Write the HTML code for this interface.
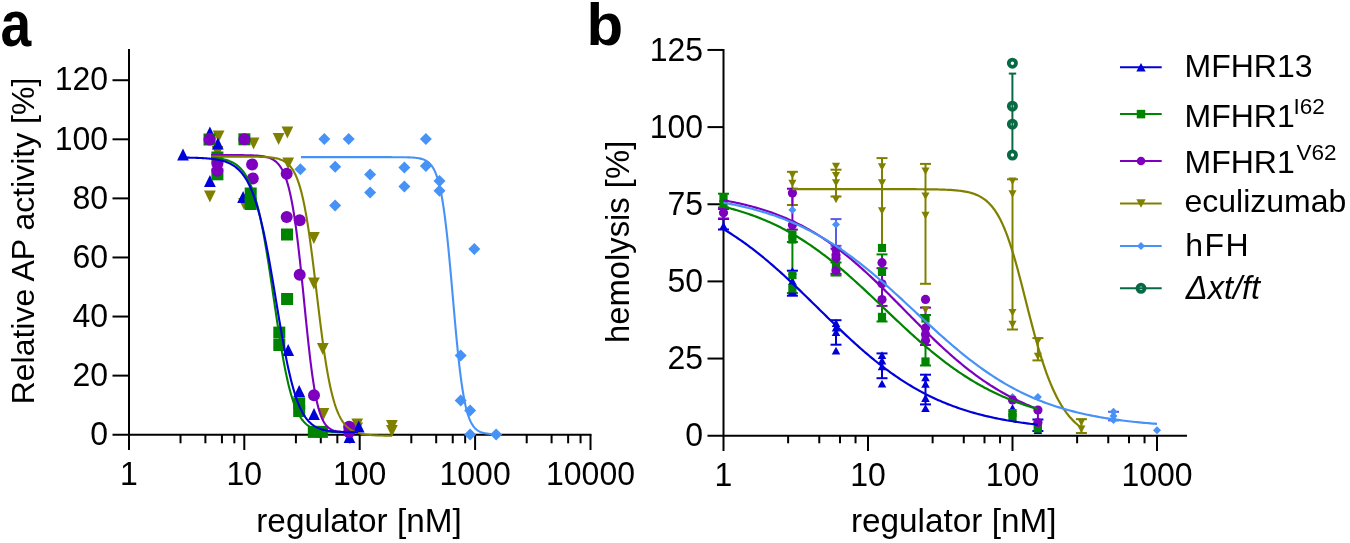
<!DOCTYPE html>
<html><head><meta charset="utf-8"><style>
html,body{margin:0;padding:0;background:#fff;overflow:hidden;}
svg{display:block;will-change:transform;font-family:"Liberation Sans",sans-serif;}
</style></head><body>
<svg width="1350" height="543" viewBox="0 0 1350 543">
<rect width="1350" height="543" fill="#fff"/>
<line x1="129.00" y1="49.00" x2="129.00" y2="450.00" stroke="#000" stroke-width="2"/>
<line x1="112.50" y1="434.70" x2="591.50" y2="434.70" stroke="#000" stroke-width="2"/>
<line x1="112.50" y1="375.62" x2="129.00" y2="375.62" stroke="#000" stroke-width="2"/>
<line x1="112.50" y1="316.54" x2="129.00" y2="316.54" stroke="#000" stroke-width="2"/>
<line x1="112.50" y1="257.46" x2="129.00" y2="257.46" stroke="#000" stroke-width="2"/>
<line x1="112.50" y1="198.38" x2="129.00" y2="198.38" stroke="#000" stroke-width="2"/>
<line x1="112.50" y1="139.30" x2="129.00" y2="139.30" stroke="#000" stroke-width="2"/>
<line x1="112.50" y1="80.22" x2="129.00" y2="80.22" stroke="#000" stroke-width="2"/>
<line x1="180.51" y1="434.70" x2="180.51" y2="443.30" stroke="#000" stroke-width="2"/>
<line x1="205.39" y1="434.70" x2="205.39" y2="443.30" stroke="#000" stroke-width="2"/>
<line x1="221.94" y1="434.70" x2="221.94" y2="443.30" stroke="#000" stroke-width="2"/>
<line x1="234.35" y1="434.70" x2="234.35" y2="443.30" stroke="#000" stroke-width="2"/>
<line x1="244.30" y1="434.70" x2="244.30" y2="450.00" stroke="#000" stroke-width="2"/>
<line x1="295.91" y1="434.70" x2="295.91" y2="443.30" stroke="#000" stroke-width="2"/>
<line x1="320.79" y1="434.70" x2="320.79" y2="443.30" stroke="#000" stroke-width="2"/>
<line x1="337.34" y1="434.70" x2="337.34" y2="443.30" stroke="#000" stroke-width="2"/>
<line x1="349.75" y1="434.70" x2="349.75" y2="443.30" stroke="#000" stroke-width="2"/>
<line x1="359.70" y1="434.70" x2="359.70" y2="450.00" stroke="#000" stroke-width="2"/>
<line x1="411.31" y1="434.70" x2="411.31" y2="443.30" stroke="#000" stroke-width="2"/>
<line x1="436.19" y1="434.70" x2="436.19" y2="443.30" stroke="#000" stroke-width="2"/>
<line x1="452.74" y1="434.70" x2="452.74" y2="443.30" stroke="#000" stroke-width="2"/>
<line x1="465.15" y1="434.70" x2="465.15" y2="443.30" stroke="#000" stroke-width="2"/>
<line x1="475.10" y1="434.70" x2="475.10" y2="450.00" stroke="#000" stroke-width="2"/>
<line x1="526.71" y1="434.70" x2="526.71" y2="443.30" stroke="#000" stroke-width="2"/>
<line x1="551.59" y1="434.70" x2="551.59" y2="443.30" stroke="#000" stroke-width="2"/>
<line x1="568.14" y1="434.70" x2="568.14" y2="443.30" stroke="#000" stroke-width="2"/>
<line x1="580.55" y1="434.70" x2="580.55" y2="443.30" stroke="#000" stroke-width="2"/>
<line x1="590.50" y1="434.70" x2="590.50" y2="450.00" stroke="#000" stroke-width="2"/>
<text transform="translate(108.00,444.90) scale(1,1.04)" font-size="32" text-anchor="end" font-weight="normal" font-style="normal" >0</text>
<text transform="translate(108.00,385.82) scale(1,1.04)" font-size="32" text-anchor="end" font-weight="normal" font-style="normal" >20</text>
<text transform="translate(108.00,326.74) scale(1,1.04)" font-size="32" text-anchor="end" font-weight="normal" font-style="normal" >40</text>
<text transform="translate(108.00,267.66) scale(1,1.04)" font-size="32" text-anchor="end" font-weight="normal" font-style="normal" >60</text>
<text transform="translate(108.00,208.58) scale(1,1.04)" font-size="32" text-anchor="end" font-weight="normal" font-style="normal" >80</text>
<text transform="translate(108.00,149.50) scale(1,1.04)" font-size="32" text-anchor="end" font-weight="normal" font-style="normal" >100</text>
<text transform="translate(108.00,90.42) scale(1,1.04)" font-size="32" text-anchor="end" font-weight="normal" font-style="normal" >120</text>
<text transform="translate(128.90,485.00) scale(1,1.04)" font-size="32" text-anchor="middle" font-weight="normal" font-style="normal" >1</text>
<text transform="translate(244.30,485.00) scale(1,1.04)" font-size="32" text-anchor="middle" font-weight="normal" font-style="normal" >10</text>
<text transform="translate(359.70,485.00) scale(1,1.04)" font-size="32" text-anchor="middle" font-weight="normal" font-style="normal" >100</text>
<text transform="translate(475.10,485.00) scale(1,1.04)" font-size="32" text-anchor="middle" font-weight="normal" font-style="normal" >1000</text>
<text transform="translate(590.50,485.00) scale(1,1.04)" font-size="32" text-anchor="middle" font-weight="normal" font-style="normal" >10000</text>
<text x="359.00" y="531.60" font-size="33.3" text-anchor="middle" font-weight="normal" font-style="normal" >regulator [nM]</text>
<text transform="translate(34.3,241) rotate(-90)" font-size="32" text-anchor="middle">Relative AP activity [%]</text>
<text transform="translate(0.6,45.8) scale(0.92,1.07)" font-size="60" font-weight="bold">a</text>
<path d="M218.60,142.50L224.48,130.50L212.72,130.50Z" fill="#808000"/>
<path d="M217.50,158.00L223.38,146.00L211.62,146.00Z" fill="#808000"/>
<path d="M209.90,202.50L215.78,190.50L204.02,190.50Z" fill="#808000"/>
<path d="M244.00,210.00L249.88,198.00L238.12,198.00Z" fill="#808000"/>
<path d="M253.60,149.50L259.48,137.50L247.72,137.50Z" fill="#808000"/>
<path d="M278.60,145.00L284.48,133.00L272.72,133.00Z" fill="#808000"/>
<path d="M287.40,138.50L293.28,126.50L281.52,126.50Z" fill="#808000"/>
<path d="M288.20,169.50L294.08,157.50L282.32,157.50Z" fill="#808000"/>
<path d="M313.90,244.00L319.78,232.00L308.02,232.00Z" fill="#808000"/>
<path d="M313.90,289.60L319.78,277.60L308.02,277.60Z" fill="#808000"/>
<path d="M322.80,355.00L328.68,343.00L316.92,343.00Z" fill="#808000"/>
<path d="M323.50,420.00L329.38,408.00L317.62,408.00Z" fill="#808000"/>
<path d="M357.20,430.50L363.08,418.50L351.32,418.50Z" fill="#808000"/>
<path d="M357.20,434.50L363.08,422.50L351.32,422.50Z" fill="#808000"/>
<path d="M391.90,432.00L397.78,420.00L386.02,420.00Z" fill="#808000"/>
<path d="M391.90,437.00L397.78,425.00L386.02,425.00Z" fill="#808000"/>
<path d="M183.00,148.50L188.88,160.50L177.12,160.50Z" fill="#0000d8"/>
<path d="M209.90,126.50L215.78,138.50L204.02,138.50Z" fill="#0000d8"/>
<path d="M217.80,137.50L223.68,149.50L211.92,149.50Z" fill="#0000d8"/>
<path d="M209.90,175.00L215.78,187.00L204.02,187.00Z" fill="#0000d8"/>
<path d="M243.10,191.00L248.98,203.00L237.22,203.00Z" fill="#0000d8"/>
<path d="M288.20,344.00L294.08,356.00L282.32,356.00Z" fill="#0000d8"/>
<path d="M299.20,385.00L305.08,397.00L293.32,397.00Z" fill="#0000d8"/>
<path d="M314.00,408.00L319.88,420.00L308.12,420.00Z" fill="#0000d8"/>
<path d="M349.50,431.00L355.38,443.00L343.62,443.00Z" fill="#0000d8"/>
<path d="M358.70,420.50L364.58,432.50L352.82,432.50Z" fill="#0000d8"/>
<rect x="203.50" y="133.50" width="12.00" height="12.00" fill="#008400"/>
<rect x="211.40" y="151.50" width="12.00" height="12.00" fill="#008400"/>
<rect x="211.40" y="168.30" width="12.00" height="12.00" fill="#008400"/>
<rect x="238.40" y="133.30" width="12.00" height="12.00" fill="#008400"/>
<rect x="244.70" y="187.50" width="12.00" height="12.00" fill="#008400"/>
<rect x="244.70" y="198.00" width="12.00" height="12.00" fill="#008400"/>
<rect x="273.30" y="326.60" width="12.00" height="12.00" fill="#008400"/>
<rect x="273.30" y="339.00" width="12.00" height="12.00" fill="#008400"/>
<rect x="281.00" y="228.50" width="12.00" height="12.00" fill="#008400"/>
<rect x="281.10" y="293.00" width="12.00" height="12.00" fill="#008400"/>
<rect x="293.20" y="397.30" width="12.00" height="12.00" fill="#008400"/>
<rect x="293.20" y="405.00" width="12.00" height="12.00" fill="#008400"/>
<rect x="307.80" y="425.90" width="12.00" height="12.00" fill="#008400"/>
<rect x="315.90" y="425.90" width="12.00" height="12.00" fill="#008400"/>
<circle cx="209.50" cy="139.50" r="6.00" fill="#7c00be"/>
<circle cx="217.40" cy="163.80" r="6.00" fill="#7c00be"/>
<circle cx="217.40" cy="170.80" r="6.00" fill="#7c00be"/>
<circle cx="244.40" cy="139.30" r="6.00" fill="#7c00be"/>
<circle cx="252.10" cy="164.40" r="6.00" fill="#7c00be"/>
<circle cx="252.80" cy="178.40" r="6.00" fill="#7c00be"/>
<circle cx="286.70" cy="173.80" r="6.00" fill="#7c00be"/>
<circle cx="286.70" cy="217.00" r="6.00" fill="#7c00be"/>
<circle cx="299.70" cy="220.20" r="6.00" fill="#7c00be"/>
<circle cx="299.70" cy="274.70" r="6.00" fill="#7c00be"/>
<circle cx="314.00" cy="395.30" r="6.00" fill="#7c00be"/>
<circle cx="349.10" cy="426.70" r="6.00" fill="#7c00be"/>
<circle cx="349.10" cy="432.00" r="6.00" fill="#7c00be"/>
<path d="M300.40,163.30L306.40,169.30L300.40,175.30L294.40,169.30Z" fill="#4792f6"/>
<path d="M324.30,133.10L330.30,139.10L324.30,145.10L318.30,139.10Z" fill="#4792f6"/>
<path d="M335.20,160.80L341.20,166.80L335.20,172.80L329.20,166.80Z" fill="#4792f6"/>
<path d="M335.10,199.40L341.10,205.40L335.10,211.40L329.10,205.40Z" fill="#4792f6"/>
<path d="M348.70,133.10L354.70,139.10L348.70,145.10L342.70,139.10Z" fill="#4792f6"/>
<path d="M370.10,168.50L376.10,174.50L370.10,180.50L364.10,174.50Z" fill="#4792f6"/>
<path d="M370.10,186.50L376.10,192.50L370.10,198.50L364.10,192.50Z" fill="#4792f6"/>
<path d="M404.40,161.40L410.40,167.40L404.40,173.40L398.40,167.40Z" fill="#4792f6"/>
<path d="M404.40,180.60L410.40,186.60L404.40,192.60L398.40,186.60Z" fill="#4792f6"/>
<path d="M425.90,133.10L431.90,139.10L425.90,145.10L419.90,139.10Z" fill="#4792f6"/>
<path d="M425.90,160.00L431.90,166.00L425.90,172.00L419.90,166.00Z" fill="#4792f6"/>
<path d="M439.50,175.10L445.50,181.10L439.50,187.10L433.50,181.10Z" fill="#4792f6"/>
<path d="M439.50,184.70L445.50,190.70L439.50,196.70L433.50,190.70Z" fill="#4792f6"/>
<path d="M474.30,242.90L480.30,248.90L474.30,254.90L468.30,248.90Z" fill="#4792f6"/>
<path d="M460.70,349.50L466.70,355.50L460.70,361.50L454.70,355.50Z" fill="#4792f6"/>
<path d="M460.70,394.60L466.70,400.60L460.70,406.60L454.70,400.60Z" fill="#4792f6"/>
<path d="M470.10,404.40L476.10,410.40L470.10,416.40L464.10,410.40Z" fill="#4792f6"/>
<path d="M470.10,428.50L476.10,434.50L470.10,440.50L464.10,434.50Z" fill="#4792f6"/>
<path d="M496.10,428.50L502.10,434.50L496.10,440.50L490.10,434.50Z" fill="#4792f6"/>
<path d="M301.00,157.16L301.98,157.16L302.96,157.16L303.94,157.16L304.92,157.16L305.90,157.16L306.88,157.16L307.86,157.16L308.84,157.16L309.82,157.16L310.80,157.16L311.78,157.16L312.76,157.16L313.74,157.16L314.72,157.16L315.70,157.16L316.68,157.16L317.66,157.16L318.64,157.16L319.62,157.16L320.60,157.16L321.58,157.16L322.56,157.16L323.54,157.16L324.52,157.16L325.50,157.16L326.48,157.16L327.46,157.16L328.44,157.16L329.42,157.16L330.40,157.16L331.38,157.16L332.36,157.16L333.34,157.16L334.32,157.16L335.30,157.16L336.28,157.16L337.26,157.16L338.24,157.16L339.22,157.16L340.20,157.16L341.18,157.16L342.16,157.16L343.14,157.16L344.12,157.16L345.10,157.16L346.08,157.16L347.06,157.16L348.04,157.16L349.02,157.16L349.99,157.16L350.97,157.16L351.95,157.16L352.93,157.16L353.91,157.16L354.89,157.16L355.87,157.16L356.85,157.16L357.83,157.16L358.81,157.16L359.79,157.16L360.77,157.16L361.75,157.16L362.73,157.16L363.71,157.16L364.69,157.16L365.67,157.16L366.65,157.16L367.63,157.16L368.61,157.16L369.59,157.16L370.57,157.16L371.55,157.16L372.53,157.16L373.51,157.16L374.49,157.16L375.47,157.16L376.45,157.16L377.43,157.16L378.41,157.16L379.39,157.16L380.37,157.16L381.35,157.16L382.33,157.17L383.31,157.17L384.29,157.17L385.27,157.17L386.25,157.17L387.23,157.17L388.21,157.17L389.19,157.17L390.17,157.17L391.15,157.17L392.13,157.18L393.11,157.18L394.09,157.18L395.07,157.19L396.05,157.19L397.03,157.19L398.01,157.20L398.99,157.21L399.97,157.21L400.95,157.22L401.93,157.23L402.91,157.25L403.89,157.26L404.87,157.28L405.85,157.30L406.83,157.32L407.81,157.35L408.79,157.38L409.77,157.42L410.75,157.46L411.73,157.51L412.71,157.57L413.69,157.64L414.67,157.72L415.65,157.82L416.63,157.93L417.61,158.06L418.59,158.22L419.57,158.40L420.55,158.61L421.53,158.86L422.51,159.15L423.49,159.49L424.47,159.89L425.45,160.35L426.43,160.90L427.41,161.53L428.39,162.27L429.37,163.13L430.35,164.14L431.33,165.31L432.31,166.67L433.29,168.24L434.27,170.07L435.25,172.18L436.23,174.61L437.21,177.40L438.19,180.61L439.17,184.27L440.15,188.43L441.13,193.14L442.11,198.45L443.09,204.39L444.07,211.00L445.05,218.30L446.03,226.28L447.01,234.95L447.98,244.26L448.96,254.15L449.94,264.56L450.92,275.36L451.90,286.45L452.88,297.68L453.86,308.91L454.84,319.99L455.82,330.79L456.80,341.17L457.78,351.03L458.76,360.30L459.74,368.90L460.72,376.80L461.70,383.99L462.68,390.48L463.66,396.29L464.64,401.44L465.62,405.99L466.60,409.98L467.58,413.46L468.56,416.49L469.54,419.11L470.52,421.36L471.50,423.30L472.48,424.97L473.46,426.39L474.44,427.61L475.42,428.64L476.40,429.52L477.38,430.27L478.36,430.91L479.34,431.44L480.32,431.90L481.30,432.29L482.28,432.62L483.26,432.89L484.24,433.13L485.22,433.32L486.20,433.49L487.18,433.63L488.16,433.75L489.14,433.85L490.12,433.94L491.10,434.01L492.08,434.07L493.06,434.12L494.04,434.16L495.02,434.20L496.00,434.23" fill="none" stroke="#4792f6" stroke-width="2.1" stroke-linejoin="round"/>
<path d="M211.00,155.08L211.74,155.08L212.48,155.08L213.22,155.08L213.95,155.08L214.69,155.08L215.43,155.08L216.17,155.08L216.91,155.08L217.65,155.08L218.39,155.08L219.13,155.08L219.86,155.08L220.60,155.08L221.34,155.08L222.08,155.08L222.82,155.08L223.56,155.08L224.30,155.08L225.04,155.09L225.77,155.09L226.51,155.09L227.25,155.09L227.99,155.09L228.73,155.09L229.47,155.09L230.21,155.09L230.94,155.10L231.68,155.10L232.42,155.10L233.16,155.10L233.90,155.10L234.64,155.11L235.38,155.11L236.12,155.11L236.85,155.12L237.59,155.12L238.33,155.12L239.07,155.13L239.81,155.14L240.55,155.14L241.29,155.15L242.03,155.15L242.76,155.16L243.50,155.17L244.24,155.18L244.98,155.19L245.72,155.20L246.46,155.22L247.20,155.23L247.93,155.25L248.67,155.26L249.41,155.28L250.15,155.30L250.89,155.33L251.63,155.35L252.37,155.38L253.11,155.41L253.84,155.44L254.58,155.48L255.32,155.52L256.06,155.57L256.80,155.62L257.54,155.67L258.28,155.73L259.02,155.80L259.75,155.87L260.49,155.95L261.23,156.04L261.97,156.14L262.71,156.25L263.45,156.37L264.19,156.50L264.92,156.65L265.66,156.81L266.40,156.98L267.14,157.18L267.88,157.39L268.62,157.62L269.36,157.88L270.10,158.16L270.83,158.48L271.57,158.82L272.31,159.20L273.05,159.61L273.79,160.07L274.53,160.57L275.27,161.12L276.01,161.73L276.74,162.39L277.48,163.12L278.22,163.92L278.96,164.80L279.70,165.76L280.44,166.81L281.18,167.96L281.91,169.22L282.65,170.60L283.39,172.10L284.13,173.74L284.87,175.53L285.61,177.47L286.35,179.58L287.09,181.88L287.82,184.37L288.56,187.06L289.30,189.98L290.04,193.12L290.78,196.50L291.52,200.14L292.26,204.03L292.99,208.20L293.73,212.64L294.47,217.37L295.21,222.37L295.95,227.67L296.69,233.24L297.43,239.09L298.17,245.20L298.90,251.57L299.64,258.16L300.38,264.96L301.12,271.95L301.86,279.09L302.60,286.35L303.34,293.69L304.08,301.07L304.81,308.46L305.55,315.82L306.29,323.09L307.03,330.25L307.77,337.26L308.51,344.07L309.25,350.67L309.98,357.01L310.72,363.08L311.46,368.85L312.20,374.32L312.94,379.47L313.68,384.30L314.42,388.80L315.16,392.99L315.89,396.86L316.63,400.42L317.37,403.69L318.11,406.67L318.85,409.40L319.59,411.87L320.33,414.10L321.07,416.12L321.80,417.93L322.54,419.57L323.28,421.03L324.02,422.33L324.76,423.50L325.50,424.53L326.24,425.46L326.97,426.27L327.71,427.00L328.45,427.64L329.19,428.21L329.93,428.71L330.67,429.15L331.41,429.54L332.15,429.88L332.88,430.19L333.62,430.45L334.36,430.69L335.10,430.89L335.84,431.07L336.58,431.23L337.32,431.37L338.06,431.49L338.79,431.59L339.53,431.69L340.27,431.77L341.01,431.84L341.75,431.90L342.49,431.96L343.23,432.00L343.96,432.05L344.70,432.08L345.44,432.12L346.18,432.14L346.92,432.17L347.66,432.19L348.40,432.21L349.14,432.22L349.87,432.24L350.61,432.25L351.35,432.26L352.09,432.27L352.83,432.28L353.57,432.29L354.31,432.29L355.05,432.30L355.78,432.30L356.52,432.31L357.26,432.31L358.00,432.31" fill="none" stroke="#7c00be" stroke-width="2.1" stroke-linejoin="round"/>
<path d="M211.00,156.64L211.91,156.64L212.82,156.64L213.73,156.64L214.64,156.64L215.55,156.64L216.46,156.64L217.37,156.64L218.28,156.64L219.19,156.64L220.10,156.64L221.01,156.64L221.91,156.64L222.82,156.64L223.73,156.64L224.64,156.64L225.55,156.64L226.46,156.64L227.37,156.64L228.28,156.64L229.19,156.64L230.10,156.64L231.01,156.65L231.92,156.65L232.83,156.65L233.74,156.65L234.65,156.65L235.56,156.65L236.47,156.65L237.38,156.65L238.29,156.65L239.20,156.66L240.11,156.66L241.02,156.66L241.92,156.66L242.83,156.66L243.74,156.67L244.65,156.67L245.56,156.68L246.47,156.68L247.38,156.68L248.29,156.69L249.20,156.70L250.11,156.70L251.02,156.71L251.93,156.72L252.84,156.73L253.75,156.74L254.66,156.75L255.57,156.76L256.48,156.78L257.39,156.80L258.30,156.82L259.21,156.84L260.12,156.86L261.03,156.89L261.93,156.92L262.84,156.95L263.75,156.99L264.66,157.03L265.57,157.08L266.48,157.14L267.39,157.20L268.30,157.26L269.21,157.34L270.12,157.42L271.03,157.52L271.94,157.63L272.85,157.75L273.76,157.88L274.67,158.03L275.58,158.20L276.49,158.39L277.40,158.60L278.31,158.84L279.22,159.10L280.13,159.40L281.04,159.73L281.94,160.11L282.85,160.52L283.76,160.99L284.67,161.51L285.58,162.09L286.49,162.74L287.40,163.47L288.31,164.27L289.22,165.18L290.13,166.18L291.04,167.30L291.95,168.54L292.86,169.91L293.77,171.44L294.68,173.13L295.59,175.00L296.50,177.06L297.41,179.33L298.32,181.83L299.23,184.58L300.14,187.58L301.05,190.85L301.95,194.42L302.86,198.29L303.77,202.47L304.68,206.98L305.59,211.82L306.50,216.99L307.41,222.49L308.32,228.32L309.23,234.46L310.14,240.90L311.05,247.61L311.96,254.56L312.87,261.73L313.78,269.08L314.69,276.57L315.60,284.14L316.51,291.76L317.42,299.38L318.33,306.96L319.24,314.44L320.15,321.79L321.06,328.97L321.96,335.94L322.87,342.68L323.78,349.16L324.69,355.36L325.60,361.26L326.51,366.86L327.42,372.16L328.33,377.14L329.24,381.81L330.15,386.18L331.06,390.26L331.97,394.05L332.88,397.56L333.79,400.81L334.70,403.82L335.61,406.59L336.52,409.14L337.43,411.48L338.34,413.63L339.25,415.60L340.16,417.40L341.07,419.05L341.97,420.56L342.88,421.94L343.79,423.19L344.70,424.34L345.61,425.38L346.52,426.33L347.43,427.20L348.34,427.98L349.25,428.70L350.16,429.35L351.07,429.94L351.98,430.48L352.89,430.96L353.80,431.41L354.71,431.81L355.62,432.18L356.53,432.51L357.44,432.81L358.35,433.08L359.26,433.33L360.17,433.56L361.08,433.76L361.98,433.94L362.89,434.11L363.80,434.27L364.71,434.40L365.62,434.53L366.53,434.64L367.44,434.75L368.35,434.84L369.26,434.92L370.17,435.00L371.08,435.07L371.99,435.13L372.90,435.19L373.81,435.24L374.72,435.29L375.63,435.33L376.54,435.37L377.45,435.41L378.36,435.44L379.27,435.47L380.18,435.49L381.09,435.52L381.99,435.54L382.90,435.56L383.81,435.58L384.72,435.59L385.63,435.61L386.54,435.62L387.45,435.63L388.36,435.64L389.27,435.65L390.18,435.66L391.09,435.67L392.00,435.68" fill="none" stroke="#808000" stroke-width="2.1" stroke-linejoin="round"/>
<path d="M211.00,157.69L211.74,157.74L212.48,157.80L213.22,157.86L213.95,157.92L214.69,157.99L215.43,158.07L216.17,158.15L216.91,158.23L217.65,158.33L218.39,158.42L219.13,158.53L219.86,158.64L220.60,158.77L221.34,158.90L222.08,159.03L222.82,159.18L223.56,159.34L224.30,159.51L225.04,159.70L225.77,159.89L226.51,160.10L227.25,160.33L227.99,160.57L228.73,160.83L229.47,161.10L230.21,161.40L230.94,161.71L231.68,162.05L232.42,162.41L233.16,162.79L233.90,163.21L234.64,163.65L235.38,164.12L236.12,164.62L236.85,165.16L237.59,165.73L238.33,166.34L239.07,167.00L239.81,167.70L240.55,168.44L241.29,169.23L242.03,170.08L242.76,170.98L243.50,171.94L244.24,172.96L244.98,174.05L245.72,175.21L246.46,176.44L247.20,177.75L247.93,179.13L248.67,180.60L249.41,182.16L250.15,183.82L250.89,185.57L251.63,187.42L252.37,189.37L253.11,191.44L253.84,193.62L254.58,195.92L255.32,198.33L256.06,200.87L256.80,203.54L257.54,206.34L258.28,209.28L259.02,212.34L259.75,215.55L260.49,218.89L261.23,222.36L261.97,225.98L262.71,229.73L263.45,233.61L264.19,237.63L264.92,241.77L265.66,246.04L266.40,250.42L267.14,254.91L267.88,259.51L268.62,264.20L269.36,268.97L270.10,273.82L270.83,278.74L271.57,283.70L272.31,288.71L273.05,293.75L273.79,298.80L274.53,303.85L275.27,308.89L276.01,313.91L276.74,318.88L277.48,323.81L278.22,328.67L278.96,333.46L279.70,338.16L280.44,342.76L281.18,347.26L281.91,351.64L282.65,355.90L283.39,360.03L284.13,364.02L284.87,367.88L285.61,371.59L286.35,375.15L287.09,378.57L287.82,381.84L288.56,384.97L289.30,387.94L290.04,390.77L290.78,393.46L291.52,396.01L292.26,398.42L292.99,400.69L293.73,402.84L294.47,404.87L295.21,406.77L295.95,408.56L296.69,410.24L297.43,411.81L298.17,413.28L298.90,414.66L299.64,415.94L300.38,417.14L301.12,418.26L301.86,419.30L302.60,420.27L303.34,421.18L304.08,422.02L304.81,422.79L305.55,423.52L306.29,424.19L307.03,424.81L307.77,425.39L308.51,425.92L309.25,426.42L309.98,426.87L310.72,427.30L311.46,427.69L312.20,428.05L312.94,428.39L313.68,428.70L314.42,428.98L315.16,429.24L315.89,429.49L316.63,429.71L317.37,429.92L318.11,430.11L318.85,430.29L319.59,430.45L320.33,430.60L321.07,430.74L321.80,430.86L322.54,430.98L323.28,431.09L324.02,431.19L324.76,431.28L325.50,431.36L326.24,431.44L326.97,431.51L327.71,431.58L328.45,431.64L329.19,431.69L329.93,431.75L330.67,431.79L331.41,431.84L332.15,431.88L332.88,431.91L333.62,431.95L334.36,431.98L335.10,432.01L335.84,432.03L336.58,432.06L337.32,432.08L338.06,432.10L338.79,432.12L339.53,432.14L340.27,432.15L341.01,432.17L341.75,432.18L342.49,432.19L343.23,432.21L343.96,432.22L344.70,432.23L345.44,432.23L346.18,432.24L346.92,432.25L347.66,432.26L348.40,432.26L349.14,432.27L349.87,432.27L350.61,432.28L351.35,432.28L352.09,432.29L352.83,432.29L353.57,432.30L354.31,432.30L355.05,432.30L355.78,432.31L356.52,432.31L357.26,432.31L358.00,432.31" fill="none" stroke="#008400" stroke-width="2.1" stroke-linejoin="round"/>
<path d="M183.00,157.59L183.88,157.60L184.76,157.61L185.64,157.62L186.52,157.63L187.40,157.65L188.28,157.66L189.16,157.67L190.04,157.69L190.91,157.71L191.79,157.73L192.67,157.75L193.55,157.77L194.43,157.79L195.31,157.82L196.19,157.85L197.07,157.87L197.95,157.91L198.83,157.94L199.71,157.98L200.59,158.01L201.47,158.06L202.35,158.10L203.23,158.15L204.11,158.20L204.98,158.26L205.86,158.32L206.74,158.38L207.62,158.45L208.50,158.52L209.38,158.60L210.26,158.69L211.14,158.78L212.02,158.88L212.90,158.98L213.78,159.10L214.66,159.22L215.54,159.35L216.42,159.49L217.30,159.64L218.18,159.81L219.06,159.98L219.93,160.17L220.81,160.37L221.69,160.58L222.57,160.81L223.45,161.06L224.33,161.33L225.21,161.62L226.09,161.92L226.97,162.25L227.85,162.60L228.73,162.98L229.61,163.39L230.49,163.82L231.37,164.29L232.25,164.79L233.13,165.32L234.01,165.89L234.88,166.51L235.76,167.16L236.64,167.87L237.52,168.62L238.40,169.42L239.28,170.28L240.16,171.19L241.04,172.17L241.92,173.22L242.80,174.33L243.68,175.52L244.56,176.79L245.44,178.13L246.32,179.57L247.20,181.10L248.08,182.72L248.95,184.44L249.83,186.27L250.71,188.21L251.59,190.27L252.47,192.44L253.35,194.74L254.23,197.17L255.11,199.73L255.99,202.43L256.87,205.26L257.75,208.24L258.63,211.37L259.51,214.65L260.39,218.07L261.27,221.65L262.15,225.37L263.03,229.25L263.90,233.27L264.78,237.45L265.66,241.76L266.54,246.21L267.42,250.79L268.30,255.49L269.18,260.31L270.06,265.23L270.94,270.25L271.82,275.35L272.70,280.53L273.58,285.76L274.46,291.04L275.34,296.34L276.22,301.66L277.10,306.98L277.97,312.28L278.85,317.55L279.73,322.77L280.61,327.92L281.49,333.00L282.37,337.99L283.25,342.87L284.13,347.64L285.01,352.29L285.89,356.79L286.77,361.16L287.65,365.37L288.53,369.43L289.41,373.33L290.29,377.06L291.17,380.63L292.05,384.03L292.92,387.26L293.80,390.33L294.68,393.24L295.56,395.99L296.44,398.58L297.32,401.02L298.20,403.31L299.08,405.46L299.96,407.48L300.84,409.36L301.72,411.12L302.60,412.76L303.48,414.28L304.36,415.70L305.24,417.02L306.12,418.24L306.99,419.37L307.87,420.42L308.75,421.39L309.63,422.28L310.51,423.11L311.39,423.87L312.27,424.57L313.15,425.22L314.03,425.82L314.91,426.36L315.79,426.87L316.67,427.33L317.55,427.75L318.43,428.14L319.31,428.50L320.19,428.83L321.07,429.13L321.94,429.40L322.82,429.66L323.70,429.89L324.58,430.10L325.46,430.29L326.34,430.47L327.22,430.63L328.10,430.78L328.98,430.92L329.86,431.04L330.74,431.15L331.62,431.26L332.50,431.35L333.38,431.44L334.26,431.51L335.14,431.59L336.02,431.65L336.89,431.71L337.77,431.77L338.65,431.82L339.53,431.86L340.41,431.90L341.29,431.94L342.17,431.98L343.05,432.01L343.93,432.04L344.81,432.06L345.69,432.09L346.57,432.11L347.45,432.13L348.33,432.15L349.21,432.16L350.09,432.18L350.96,432.19L351.84,432.21L352.72,432.22L353.60,432.23L354.48,432.24L355.36,432.25L356.24,432.25L357.12,432.26L358.00,432.27" fill="none" stroke="#0000d8" stroke-width="2.1" stroke-linejoin="round"/>
<line x1="723.50" y1="49.00" x2="723.50" y2="451.00" stroke="#000" stroke-width="2"/>
<line x1="707.50" y1="435.70" x2="1187.00" y2="435.70" stroke="#000" stroke-width="2"/>
<line x1="707.50" y1="358.55" x2="723.50" y2="358.55" stroke="#000" stroke-width="2"/>
<line x1="707.50" y1="281.40" x2="723.50" y2="281.40" stroke="#000" stroke-width="2"/>
<line x1="707.50" y1="204.25" x2="723.50" y2="204.25" stroke="#000" stroke-width="2"/>
<line x1="707.50" y1="127.10" x2="723.50" y2="127.10" stroke="#000" stroke-width="2"/>
<line x1="707.50" y1="49.95" x2="723.50" y2="49.95" stroke="#000" stroke-width="2"/>
<line x1="788.12" y1="435.70" x2="788.12" y2="443.30" stroke="#000" stroke-width="2"/>
<line x1="819.27" y1="435.70" x2="819.27" y2="443.30" stroke="#000" stroke-width="2"/>
<line x1="840.00" y1="435.70" x2="840.00" y2="443.30" stroke="#000" stroke-width="2"/>
<line x1="855.54" y1="435.70" x2="855.54" y2="443.30" stroke="#000" stroke-width="2"/>
<line x1="868.00" y1="435.70" x2="868.00" y2="451.00" stroke="#000" stroke-width="2"/>
<line x1="932.62" y1="435.70" x2="932.62" y2="443.30" stroke="#000" stroke-width="2"/>
<line x1="963.77" y1="435.70" x2="963.77" y2="443.30" stroke="#000" stroke-width="2"/>
<line x1="984.50" y1="435.70" x2="984.50" y2="443.30" stroke="#000" stroke-width="2"/>
<line x1="1000.04" y1="435.70" x2="1000.04" y2="443.30" stroke="#000" stroke-width="2"/>
<line x1="1012.50" y1="435.70" x2="1012.50" y2="451.00" stroke="#000" stroke-width="2"/>
<line x1="1077.12" y1="435.70" x2="1077.12" y2="443.30" stroke="#000" stroke-width="2"/>
<line x1="1108.27" y1="435.70" x2="1108.27" y2="443.30" stroke="#000" stroke-width="2"/>
<line x1="1129.00" y1="435.70" x2="1129.00" y2="443.30" stroke="#000" stroke-width="2"/>
<line x1="1144.54" y1="435.70" x2="1144.54" y2="443.30" stroke="#000" stroke-width="2"/>
<line x1="1157.00" y1="435.70" x2="1157.00" y2="451.00" stroke="#000" stroke-width="2"/>
<text transform="translate(703.00,446.30) scale(1,1.04)" font-size="32" text-anchor="end" font-weight="normal" font-style="normal" >0</text>
<text transform="translate(703.00,369.15) scale(1,1.04)" font-size="32" text-anchor="end" font-weight="normal" font-style="normal" >25</text>
<text transform="translate(703.00,292.00) scale(1,1.04)" font-size="32" text-anchor="end" font-weight="normal" font-style="normal" >50</text>
<text transform="translate(703.00,214.85) scale(1,1.04)" font-size="32" text-anchor="end" font-weight="normal" font-style="normal" >75</text>
<text transform="translate(703.00,137.70) scale(1,1.04)" font-size="32" text-anchor="end" font-weight="normal" font-style="normal" >100</text>
<text transform="translate(703.00,60.55) scale(1,1.04)" font-size="32" text-anchor="end" font-weight="normal" font-style="normal" >125</text>
<text transform="translate(723.50,486.00) scale(1,1.04)" font-size="32" text-anchor="middle" font-weight="normal" font-style="normal" >1</text>
<text transform="translate(868.00,486.00) scale(1,1.04)" font-size="32" text-anchor="middle" font-weight="normal" font-style="normal" >10</text>
<text transform="translate(1012.50,486.00) scale(1,1.04)" font-size="32" text-anchor="middle" font-weight="normal" font-style="normal" >100</text>
<text transform="translate(1157.00,486.00) scale(1,1.04)" font-size="32" text-anchor="middle" font-weight="normal" font-style="normal" >1000</text>
<text x="953.70" y="532.10" font-size="33.3" text-anchor="middle" font-weight="normal" font-style="normal" >regulator [nM]</text>
<text transform="translate(629.4,241.9) rotate(-90)" font-size="32.8" text-anchor="middle">hemolysis [%]</text>
<text x="586.40" y="45.00" font-size="60" text-anchor="start" font-weight="bold" font-style="normal" >b</text>
<line x1="792.40" y1="171.80" x2="792.40" y2="205.00" stroke="#808000" stroke-width="2"/>
<line x1="786.90" y1="171.80" x2="797.90" y2="171.80" stroke="#808000" stroke-width="2"/>
<line x1="786.90" y1="205.00" x2="797.90" y2="205.00" stroke="#808000" stroke-width="2"/>
<line x1="836.00" y1="169.70" x2="836.00" y2="196.50" stroke="#808000" stroke-width="2"/>
<line x1="830.50" y1="169.70" x2="841.50" y2="169.70" stroke="#808000" stroke-width="2"/>
<line x1="830.50" y1="196.50" x2="841.50" y2="196.50" stroke="#808000" stroke-width="2"/>
<line x1="882.00" y1="158.10" x2="882.00" y2="246.00" stroke="#808000" stroke-width="2"/>
<line x1="876.50" y1="158.10" x2="887.50" y2="158.10" stroke="#808000" stroke-width="2"/>
<line x1="925.50" y1="163.90" x2="925.50" y2="283.80" stroke="#808000" stroke-width="2"/>
<line x1="920.00" y1="163.90" x2="931.00" y2="163.90" stroke="#808000" stroke-width="2"/>
<line x1="920.00" y1="283.80" x2="931.00" y2="283.80" stroke="#808000" stroke-width="2"/>
<line x1="1012.50" y1="179.30" x2="1012.50" y2="329.50" stroke="#808000" stroke-width="2"/>
<line x1="1007.00" y1="179.30" x2="1018.00" y2="179.30" stroke="#808000" stroke-width="2"/>
<line x1="1007.00" y1="329.50" x2="1018.00" y2="329.50" stroke="#808000" stroke-width="2"/>
<line x1="1037.90" y1="338.10" x2="1037.90" y2="360.40" stroke="#808000" stroke-width="2"/>
<line x1="1032.40" y1="338.10" x2="1043.40" y2="338.10" stroke="#808000" stroke-width="2"/>
<line x1="1032.40" y1="360.40" x2="1043.40" y2="360.40" stroke="#808000" stroke-width="2"/>
<line x1="1081.40" y1="419.20" x2="1081.40" y2="433.00" stroke="#808000" stroke-width="2"/>
<line x1="1075.90" y1="419.20" x2="1086.90" y2="419.20" stroke="#808000" stroke-width="2"/>
<line x1="1075.90" y1="433.00" x2="1086.90" y2="433.00" stroke="#808000" stroke-width="2"/>
<line x1="836.00" y1="219.10" x2="836.00" y2="245.80" stroke="#5a5af0" stroke-width="2"/>
<line x1="830.50" y1="219.10" x2="841.50" y2="219.10" stroke="#5a5af0" stroke-width="2"/>
<line x1="830.50" y1="245.80" x2="841.50" y2="245.80" stroke="#5a5af0" stroke-width="2"/>
<line x1="1113.50" y1="411.80" x2="1113.50" y2="420.40" stroke="#5a5af0" stroke-width="2"/>
<line x1="1108.00" y1="411.80" x2="1119.00" y2="411.80" stroke="#5a5af0" stroke-width="2"/>
<line x1="1108.00" y1="420.40" x2="1119.00" y2="420.40" stroke="#5a5af0" stroke-width="2"/>
<line x1="723.50" y1="219.00" x2="723.50" y2="229.50" stroke="#0000d8" stroke-width="2"/>
<line x1="718.00" y1="219.00" x2="729.00" y2="219.00" stroke="#0000d8" stroke-width="2"/>
<line x1="718.00" y1="229.50" x2="729.00" y2="229.50" stroke="#0000d8" stroke-width="2"/>
<line x1="792.40" y1="270.70" x2="792.40" y2="295.70" stroke="#0000d8" stroke-width="2"/>
<line x1="786.90" y1="270.70" x2="797.90" y2="270.70" stroke="#0000d8" stroke-width="2"/>
<line x1="786.90" y1="295.70" x2="797.90" y2="295.70" stroke="#0000d8" stroke-width="2"/>
<line x1="836.00" y1="320.20" x2="836.00" y2="344.70" stroke="#0000d8" stroke-width="2"/>
<line x1="830.50" y1="320.20" x2="841.50" y2="320.20" stroke="#0000d8" stroke-width="2"/>
<line x1="830.50" y1="344.70" x2="841.50" y2="344.70" stroke="#0000d8" stroke-width="2"/>
<line x1="882.00" y1="353.40" x2="882.00" y2="378.20" stroke="#0000d8" stroke-width="2"/>
<line x1="876.50" y1="353.40" x2="887.50" y2="353.40" stroke="#0000d8" stroke-width="2"/>
<line x1="876.50" y1="378.20" x2="887.50" y2="378.20" stroke="#0000d8" stroke-width="2"/>
<line x1="925.50" y1="374.70" x2="925.50" y2="404.40" stroke="#0000d8" stroke-width="2"/>
<line x1="920.00" y1="374.70" x2="931.00" y2="374.70" stroke="#0000d8" stroke-width="2"/>
<line x1="920.00" y1="404.40" x2="931.00" y2="404.40" stroke="#0000d8" stroke-width="2"/>
<line x1="1037.90" y1="419.50" x2="1037.90" y2="431.00" stroke="#0000d8" stroke-width="2"/>
<line x1="1032.40" y1="419.50" x2="1043.40" y2="419.50" stroke="#0000d8" stroke-width="2"/>
<line x1="1032.40" y1="431.00" x2="1043.40" y2="431.00" stroke="#0000d8" stroke-width="2"/>
<line x1="723.50" y1="193.70" x2="723.50" y2="207.50" stroke="#008400" stroke-width="2"/>
<line x1="718.00" y1="193.70" x2="729.00" y2="193.70" stroke="#008400" stroke-width="2"/>
<line x1="718.00" y1="207.50" x2="729.00" y2="207.50" stroke="#008400" stroke-width="2"/>
<line x1="792.40" y1="242.00" x2="792.40" y2="293.00" stroke="#008400" stroke-width="2"/>
<line x1="786.90" y1="242.00" x2="797.90" y2="242.00" stroke="#008400" stroke-width="2"/>
<line x1="786.90" y1="293.00" x2="797.90" y2="293.00" stroke="#008400" stroke-width="2"/>
<line x1="836.00" y1="262.50" x2="836.00" y2="275.50" stroke="#008400" stroke-width="2"/>
<line x1="830.50" y1="262.50" x2="841.50" y2="262.50" stroke="#008400" stroke-width="2"/>
<line x1="830.50" y1="275.50" x2="841.50" y2="275.50" stroke="#008400" stroke-width="2"/>
<line x1="882.00" y1="254.40" x2="882.00" y2="321.50" stroke="#008400" stroke-width="2"/>
<line x1="876.50" y1="254.40" x2="887.50" y2="254.40" stroke="#008400" stroke-width="2"/>
<line x1="876.50" y1="321.50" x2="887.50" y2="321.50" stroke="#008400" stroke-width="2"/>
<line x1="925.50" y1="315.00" x2="925.50" y2="365.50" stroke="#008400" stroke-width="2"/>
<line x1="920.00" y1="315.00" x2="931.00" y2="315.00" stroke="#008400" stroke-width="2"/>
<line x1="920.00" y1="365.50" x2="931.00" y2="365.50" stroke="#008400" stroke-width="2"/>
<line x1="723.50" y1="209.00" x2="723.50" y2="218.50" stroke="#7c00be" stroke-width="2"/>
<line x1="718.00" y1="209.00" x2="729.00" y2="209.00" stroke="#7c00be" stroke-width="2"/>
<line x1="718.00" y1="218.50" x2="729.00" y2="218.50" stroke="#7c00be" stroke-width="2"/>
<line x1="792.40" y1="188.70" x2="792.40" y2="229.60" stroke="#7c00be" stroke-width="2"/>
<line x1="786.90" y1="188.70" x2="797.90" y2="188.70" stroke="#7c00be" stroke-width="2"/>
<line x1="786.90" y1="229.60" x2="797.90" y2="229.60" stroke="#7c00be" stroke-width="2"/>
<line x1="836.00" y1="248.60" x2="836.00" y2="273.80" stroke="#7c00be" stroke-width="2"/>
<line x1="830.50" y1="248.60" x2="841.50" y2="248.60" stroke="#7c00be" stroke-width="2"/>
<line x1="830.50" y1="273.80" x2="841.50" y2="273.80" stroke="#7c00be" stroke-width="2"/>
<line x1="882.00" y1="268.20" x2="882.00" y2="305.90" stroke="#7c00be" stroke-width="2"/>
<line x1="876.50" y1="268.20" x2="887.50" y2="268.20" stroke="#7c00be" stroke-width="2"/>
<line x1="876.50" y1="305.90" x2="887.50" y2="305.90" stroke="#7c00be" stroke-width="2"/>
<line x1="925.50" y1="307.60" x2="925.50" y2="345.00" stroke="#7c00be" stroke-width="2"/>
<line x1="920.00" y1="307.60" x2="931.00" y2="307.60" stroke="#7c00be" stroke-width="2"/>
<line x1="920.00" y1="345.00" x2="931.00" y2="345.00" stroke="#7c00be" stroke-width="2"/>
<line x1="1037.90" y1="411.00" x2="1037.90" y2="421.00" stroke="#7c00be" stroke-width="2"/>
<path d="M792.40,178.70L796.47,171.30L788.33,171.30Z" fill="#808000"/>
<path d="M792.40,187.20L796.47,179.80L788.33,179.80Z" fill="#808000"/>
<path d="M836.00,170.20L840.07,162.80L831.93,162.80Z" fill="#808000"/>
<path d="M836.00,179.30L840.07,171.90L831.93,171.90Z" fill="#808000"/>
<path d="M836.00,186.70L840.07,179.30L831.93,179.30Z" fill="#808000"/>
<path d="M836.00,203.20L840.07,195.80L831.93,195.80Z" fill="#808000"/>
<path d="M882.00,170.70L886.07,163.30L877.93,163.30Z" fill="#808000"/>
<path d="M882.00,186.70L886.07,179.30L877.93,179.30Z" fill="#808000"/>
<path d="M882.00,214.70L886.07,207.30L877.93,207.30Z" fill="#808000"/>
<path d="M925.50,175.00L929.57,167.60L921.43,167.60Z" fill="#808000"/>
<path d="M925.50,199.80L929.57,192.40L921.43,192.40Z" fill="#808000"/>
<path d="M925.50,219.20L929.57,211.80L921.43,211.80Z" fill="#808000"/>
<path d="M925.50,313.70L929.57,306.30L921.43,306.30Z" fill="#808000"/>
<path d="M1012.50,184.90L1016.57,177.50L1008.43,177.50Z" fill="#808000"/>
<path d="M1012.50,197.70L1016.57,190.30L1008.43,190.30Z" fill="#808000"/>
<path d="M1012.50,316.30L1016.57,308.90L1008.43,308.90Z" fill="#808000"/>
<path d="M1012.50,328.20L1016.57,320.80L1008.43,320.80Z" fill="#808000"/>
<path d="M1037.90,344.80L1041.97,337.40L1033.83,337.40Z" fill="#808000"/>
<path d="M1037.90,360.10L1041.97,352.70L1033.83,352.70Z" fill="#808000"/>
<path d="M1081.40,425.90L1085.47,418.50L1077.33,418.50Z" fill="#808000"/>
<path d="M1081.40,433.00L1085.47,425.60L1077.33,425.60Z" fill="#808000"/>
<path d="M723.50,197.00L727.50,201.00L723.50,205.00L719.50,201.00Z" fill="#4792f6"/>
<path d="M792.40,206.00L796.40,210.00L792.40,214.00L788.40,210.00Z" fill="#4792f6"/>
<path d="M836.00,220.60L840.00,224.60L836.00,228.60L832.00,224.60Z" fill="#4792f6"/>
<path d="M882.00,279.50L886.00,283.50L882.00,287.50L878.00,283.50Z" fill="#4792f6"/>
<path d="M1012.50,392.90L1016.50,396.90L1012.50,400.90L1008.50,396.90Z" fill="#4792f6"/>
<path d="M1037.90,392.90L1041.90,396.90L1037.90,400.90L1033.90,396.90Z" fill="#4792f6"/>
<path d="M1113.50,407.70L1117.50,411.70L1113.50,415.70L1109.50,411.70Z" fill="#4792f6"/>
<path d="M1113.50,412.00L1117.50,416.00L1113.50,420.00L1109.50,416.00Z" fill="#4792f6"/>
<path d="M1113.50,415.90L1117.50,419.90L1113.50,423.90L1109.50,419.90Z" fill="#4792f6"/>
<path d="M1157.00,426.30L1161.00,430.30L1157.00,434.30L1153.00,430.30Z" fill="#4792f6"/>
<path d="M723.50,221.90L727.79,229.70L719.21,229.70Z" fill="#0000d8"/>
<path d="M792.40,267.10L796.69,274.90L788.11,274.90Z" fill="#0000d8"/>
<path d="M792.40,277.10L796.69,284.90L788.11,284.90Z" fill="#0000d8"/>
<path d="M792.40,287.10L796.69,294.90L788.11,294.90Z" fill="#0000d8"/>
<path d="M836.00,319.10L840.29,326.90L831.71,326.90Z" fill="#0000d8"/>
<path d="M836.00,323.70L840.29,331.50L831.71,331.50Z" fill="#0000d8"/>
<path d="M836.00,328.30L840.29,336.10L831.71,336.10Z" fill="#0000d8"/>
<path d="M836.00,346.70L840.29,354.50L831.71,354.50Z" fill="#0000d8"/>
<path d="M882.00,351.30L886.29,359.10L877.71,359.10Z" fill="#0000d8"/>
<path d="M882.00,356.80L886.29,364.60L877.71,364.60Z" fill="#0000d8"/>
<path d="M882.00,362.40L886.29,370.20L877.71,370.20Z" fill="#0000d8"/>
<path d="M882.00,379.80L886.29,387.60L877.71,387.60Z" fill="#0000d8"/>
<path d="M925.50,373.40L929.79,381.20L921.21,381.20Z" fill="#0000d8"/>
<path d="M925.50,379.90L929.79,387.70L921.21,387.70Z" fill="#0000d8"/>
<path d="M925.50,394.10L929.79,401.90L921.21,401.90Z" fill="#0000d8"/>
<path d="M925.50,404.30L929.79,412.10L921.21,412.10Z" fill="#0000d8"/>
<path d="M1012.50,404.10L1016.79,411.90L1008.21,411.90Z" fill="#0000d8"/>
<path d="M1037.90,420.10L1042.19,427.90L1033.61,427.90Z" fill="#0000d8"/>
<path d="M1037.90,426.10L1042.19,433.90L1033.61,433.90Z" fill="#0000d8"/>
<rect x="719.40" y="193.90" width="8.20" height="8.20" fill="#008400"/>
<rect x="719.40" y="199.90" width="8.20" height="8.20" fill="#008400"/>
<rect x="788.30" y="230.40" width="8.20" height="8.20" fill="#008400"/>
<rect x="788.30" y="235.40" width="8.20" height="8.20" fill="#008400"/>
<rect x="788.30" y="271.00" width="8.20" height="8.20" fill="#008400"/>
<rect x="788.30" y="284.30" width="8.20" height="8.20" fill="#008400"/>
<rect x="831.90" y="261.90" width="8.20" height="8.20" fill="#008400"/>
<rect x="831.90" y="267.90" width="8.20" height="8.20" fill="#008400"/>
<rect x="877.90" y="243.90" width="8.20" height="8.20" fill="#008400"/>
<rect x="877.90" y="267.80" width="8.20" height="8.20" fill="#008400"/>
<rect x="877.90" y="312.80" width="8.20" height="8.20" fill="#008400"/>
<rect x="921.40" y="314.40" width="8.20" height="8.20" fill="#008400"/>
<rect x="921.40" y="357.40" width="8.20" height="8.20" fill="#008400"/>
<rect x="1008.40" y="409.00" width="8.20" height="8.20" fill="#008400"/>
<rect x="1008.40" y="413.10" width="8.20" height="8.20" fill="#008400"/>
<rect x="1033.80" y="421.90" width="8.20" height="8.20" fill="#008400"/>
<rect x="1033.80" y="424.40" width="8.20" height="8.20" fill="#008400"/>
<circle cx="723.50" cy="212.80" r="4.60" fill="#7c00be"/>
<circle cx="792.40" cy="193.00" r="4.60" fill="#7c00be"/>
<circle cx="792.40" cy="225.10" r="4.60" fill="#7c00be"/>
<circle cx="836.00" cy="249.50" r="4.60" fill="#7c00be"/>
<circle cx="836.00" cy="255.00" r="4.60" fill="#7c00be"/>
<circle cx="836.00" cy="258.50" r="4.60" fill="#7c00be"/>
<circle cx="836.00" cy="270.50" r="4.60" fill="#7c00be"/>
<circle cx="882.00" cy="262.70" r="4.60" fill="#7c00be"/>
<circle cx="882.00" cy="283.80" r="4.60" fill="#7c00be"/>
<circle cx="882.00" cy="299.50" r="4.60" fill="#7c00be"/>
<circle cx="925.50" cy="299.40" r="4.60" fill="#7c00be"/>
<circle cx="925.50" cy="328.00" r="4.60" fill="#7c00be"/>
<circle cx="925.50" cy="334.50" r="4.60" fill="#7c00be"/>
<circle cx="925.50" cy="340.50" r="4.60" fill="#7c00be"/>
<circle cx="1012.50" cy="400.00" r="4.60" fill="#7c00be"/>
<circle cx="1037.90" cy="410.00" r="4.60" fill="#7c00be"/>
<circle cx="1037.90" cy="422.50" r="4.60" fill="#7c00be"/>
<path d="M792.40,189.17L793.85,189.17L795.30,189.17L796.76,189.17L798.21,189.17L799.66,189.17L801.11,189.17L802.57,189.17L804.02,189.17L805.47,189.17L806.92,189.17L808.37,189.17L809.83,189.17L811.28,189.17L812.73,189.17L814.18,189.17L815.64,189.17L817.09,189.17L818.54,189.17L819.99,189.17L821.45,189.17L822.90,189.17L824.35,189.17L825.80,189.17L827.25,189.17L828.71,189.17L830.16,189.17L831.61,189.17L833.06,189.17L834.52,189.17L835.97,189.17L837.42,189.17L838.87,189.17L840.32,189.17L841.78,189.17L843.23,189.17L844.68,189.17L846.13,189.17L847.59,189.17L849.04,189.17L850.49,189.17L851.94,189.17L853.39,189.17L854.85,189.17L856.30,189.17L857.75,189.17L859.20,189.17L860.66,189.17L862.11,189.17L863.56,189.17L865.01,189.17L866.47,189.17L867.92,189.17L869.37,189.17L870.82,189.17L872.27,189.17L873.73,189.17L875.18,189.17L876.63,189.17L878.08,189.17L879.54,189.17L880.99,189.17L882.44,189.17L883.89,189.17L885.34,189.17L886.80,189.17L888.25,189.17L889.70,189.18L891.15,189.18L892.61,189.18L894.06,189.18L895.51,189.18L896.96,189.18L898.42,189.18L899.87,189.18L901.32,189.19L902.77,189.19L904.22,189.19L905.68,189.19L907.13,189.20L908.58,189.20L910.03,189.20L911.49,189.21L912.94,189.21L914.39,189.22L915.84,189.22L917.29,189.23L918.75,189.24L920.20,189.24L921.65,189.25L923.10,189.26L924.56,189.28L926.01,189.29L927.46,189.30L928.91,189.32L930.36,189.34L931.82,189.36L933.27,189.38L934.72,189.40L936.17,189.43L937.63,189.46L939.08,189.50L940.53,189.53L941.98,189.58L943.44,189.63L944.89,189.68L946.34,189.74L947.79,189.81L949.24,189.88L950.70,189.97L952.15,190.06L953.60,190.17L955.05,190.28L956.51,190.41L957.96,190.56L959.41,190.72L960.86,190.90L962.31,191.11L963.77,191.33L965.22,191.59L966.67,191.87L968.12,192.18L969.58,192.53L971.03,192.92L972.48,193.35L973.93,193.83L975.38,194.37L976.84,194.96L978.29,195.62L979.74,196.36L981.19,197.17L982.65,198.07L984.10,199.06L985.55,200.16L987.00,201.37L988.46,202.71L989.91,204.18L991.36,205.79L992.81,207.56L994.26,209.49L995.72,211.60L997.17,213.90L998.62,216.39L1000.07,219.10L1001.53,222.01L1002.98,225.15L1004.43,228.52L1005.88,232.12L1007.33,235.95L1008.79,240.02L1010.24,244.30L1011.69,248.81L1013.14,253.53L1014.60,258.45L1016.05,263.54L1017.50,268.80L1018.95,274.20L1020.41,279.72L1021.86,285.34L1023.31,291.02L1024.76,296.74L1026.21,302.49L1027.67,308.22L1029.12,313.92L1030.57,319.56L1032.02,325.13L1033.48,330.59L1034.93,335.94L1036.38,341.17L1037.83,346.24L1039.28,351.17L1040.74,355.93L1042.19,360.53L1043.64,364.95L1045.09,369.19L1046.55,373.26L1048.00,377.16L1049.45,380.88L1050.90,384.42L1052.35,387.80L1053.81,391.01L1055.26,394.06L1056.71,396.95L1058.16,399.70L1059.62,402.30L1061.07,404.76L1062.52,407.09L1063.97,409.29L1065.43,411.37L1066.88,413.33L1068.33,415.18L1069.78,416.93L1071.23,418.58L1072.69,420.14L1074.14,421.60L1075.59,422.98L1077.04,424.28L1078.50,425.51L1079.95,426.66L1081.40,427.75" fill="none" stroke="#808000" stroke-width="2.2" stroke-linejoin="round"/>
<path d="M723.50,200.33L725.08,200.61L726.66,200.89L728.24,201.18L729.82,201.48L731.40,201.79L732.98,202.11L734.56,202.43L736.14,202.76L737.72,203.10L739.30,203.44L740.88,203.80L742.46,204.16L744.04,204.53L745.62,204.91L747.20,205.30L748.78,205.70L750.36,206.11L751.94,206.53L753.52,206.95L755.10,207.39L756.68,207.84L758.26,208.30L759.84,208.76L761.42,209.24L763.00,209.73L764.58,210.23L766.16,210.75L767.74,211.27L769.32,211.81L770.90,212.35L772.48,212.91L774.06,213.48L775.64,214.07L777.22,214.66L778.80,215.27L780.38,215.90L781.96,216.53L783.54,217.18L785.12,217.84L786.70,218.52L788.28,219.21L789.86,219.91L791.44,220.63L793.02,221.36L794.60,222.11L796.18,222.87L797.76,223.65L799.34,224.44L800.92,225.25L802.49,226.07L804.07,226.91L805.65,227.76L807.23,228.63L808.81,229.51L810.39,230.41L811.97,231.33L813.55,232.26L815.13,233.21L816.71,234.18L818.29,235.16L819.87,236.16L821.45,237.17L823.03,238.20L824.61,239.25L826.19,240.31L827.77,241.39L829.35,242.49L830.93,243.60L832.51,244.73L834.09,245.88L835.67,247.04L837.25,248.22L838.83,249.41L840.41,250.62L841.99,251.85L843.57,253.09L845.15,254.35L846.73,255.62L848.31,256.91L849.89,258.21L851.47,259.53L853.05,260.87L854.63,262.21L856.21,263.58L857.79,264.95L859.37,266.34L860.95,267.74L862.53,269.16L864.11,270.59L865.69,272.03L867.27,273.48L868.85,274.94L870.43,276.42L872.01,277.91L873.59,279.40L875.17,280.91L876.75,282.42L878.33,283.95L879.91,285.48L881.49,287.03L883.07,288.58L884.65,290.13L886.23,291.70L887.81,293.27L889.39,294.84L890.97,296.42L892.55,298.01L894.13,299.60L895.71,301.19L897.29,302.79L898.87,304.39L900.45,305.99L902.03,307.59L903.61,309.19L905.19,310.80L906.77,312.40L908.35,314.00L909.93,315.60L911.51,317.20L913.09,318.80L914.67,320.39L916.25,321.98L917.83,323.57L919.41,325.15L920.99,326.73L922.57,328.30L924.15,329.86L925.73,331.42L927.31,332.97L928.89,334.52L930.47,336.05L932.05,337.58L933.63,339.10L935.21,340.61L936.79,342.11L938.37,343.60L939.95,345.08L941.53,346.54L943.11,348.00L944.69,349.45L946.27,350.88L947.85,352.30L949.43,353.71L951.01,355.11L952.59,356.49L954.17,357.86L955.75,359.22L957.33,360.56L958.91,361.89L960.48,363.20L962.06,364.50L963.64,365.79L965.22,367.06L966.80,368.31L968.38,369.55L969.96,370.78L971.54,371.99L973.12,373.18L974.70,374.36L976.28,375.53L977.86,376.67L979.44,377.81L981.02,378.92L982.60,380.03L984.18,381.11L985.76,382.18L987.34,383.24L988.92,384.27L990.50,385.30L992.08,386.30L993.66,387.30L995.24,388.27L996.82,389.23L998.40,390.18L999.98,391.11L1001.56,392.02L1003.14,392.92L1004.72,393.81L1006.30,394.68L1007.88,395.53L1009.46,396.37L1011.04,397.20L1012.62,398.01L1014.20,398.81L1015.78,399.59L1017.36,400.36L1018.94,401.12L1020.52,401.86L1022.10,402.59L1023.68,403.30L1025.26,404.00L1026.84,404.69L1028.42,405.36L1030.00,406.03L1031.58,406.68L1033.16,407.31L1034.74,407.94L1036.32,408.55L1037.90,409.15" fill="none" stroke="#7c00be" stroke-width="2.2" stroke-linejoin="round"/>
<path d="M723.50,202.66L725.68,203.06L727.86,203.46L730.04,203.88L732.21,204.31L734.39,204.75L736.57,205.21L738.75,205.68L740.93,206.16L743.11,206.66L745.28,207.17L747.46,207.70L749.64,208.25L751.82,208.80L754.00,209.38L756.18,209.97L758.35,210.58L760.53,211.20L762.71,211.84L764.89,212.50L767.07,213.18L769.25,213.88L771.42,214.59L773.60,215.33L775.78,216.08L777.96,216.86L780.14,217.65L782.32,218.47L784.49,219.31L786.67,220.17L788.85,221.05L791.03,221.95L793.21,222.88L795.39,223.82L797.57,224.80L799.74,225.79L801.92,226.81L804.10,227.85L806.28,228.92L808.46,230.01L810.64,231.13L812.81,232.27L814.99,233.44L817.17,234.63L819.35,235.85L821.53,237.09L823.71,238.36L825.88,239.66L828.06,240.98L830.24,242.33L832.42,243.70L834.60,245.10L836.78,246.53L838.95,247.98L841.13,249.46L843.31,250.96L845.49,252.49L847.67,254.04L849.85,255.62L852.03,257.23L854.20,258.85L856.38,260.51L858.56,262.18L860.74,263.88L862.92,265.60L865.10,267.35L867.27,269.11L869.45,270.90L871.63,272.70L873.81,274.53L875.99,276.37L878.17,278.24L880.34,280.12L882.52,282.01L884.70,283.93L886.88,285.85L889.06,287.79L891.24,289.75L893.41,291.71L895.59,293.69L897.77,295.68L899.95,297.67L902.13,299.68L904.31,301.69L906.48,303.70L908.66,305.72L910.84,307.74L913.02,309.77L915.20,311.79L917.38,313.82L919.56,315.84L921.73,317.87L923.91,319.88L926.09,321.90L928.27,323.90L930.45,325.90L932.63,327.89L934.80,329.88L936.98,331.85L939.16,333.81L941.34,335.76L943.52,337.69L945.70,339.61L947.87,341.51L950.05,343.40L952.23,345.27L954.41,347.12L956.59,348.96L958.77,350.77L960.94,352.56L963.12,354.33L965.30,356.09L967.48,357.81L969.66,359.52L971.84,361.20L974.02,362.86L976.19,364.49L978.37,366.10L980.55,367.68L982.73,369.23L984.91,370.76L987.09,372.27L989.26,373.75L991.44,375.20L993.62,376.62L995.80,378.02L997.98,379.39L1000.16,380.74L1002.33,382.05L1004.51,383.34L1006.69,384.60L1008.87,385.84L1011.05,387.05L1013.23,388.23L1015.40,389.39L1017.58,390.52L1019.76,391.62L1021.94,392.70L1024.12,393.75L1026.30,394.78L1028.47,395.78L1030.65,396.76L1032.83,397.71L1035.01,398.64L1037.19,399.55L1039.37,400.43L1041.55,401.29L1043.72,402.13L1045.90,402.94L1048.08,403.73L1050.26,404.50L1052.44,405.25L1054.62,405.98L1056.79,406.69L1058.97,407.38L1061.15,408.05L1063.33,408.70L1065.51,409.33L1067.69,409.95L1069.86,410.54L1072.04,411.12L1074.22,411.68L1076.40,412.23L1078.58,412.75L1080.76,413.27L1082.93,413.76L1085.11,414.25L1087.29,414.71L1089.47,415.17L1091.65,415.60L1093.83,416.03L1096.01,416.44L1098.18,416.84L1100.36,417.23L1102.54,417.60L1104.72,417.97L1106.90,418.32L1109.08,418.66L1111.25,418.99L1113.43,419.31L1115.61,419.61L1117.79,419.91L1119.97,420.20L1122.15,420.48L1124.32,420.75L1126.50,421.01L1128.68,421.27L1130.86,421.51L1133.04,421.75L1135.22,421.98L1137.39,422.20L1139.57,422.41L1141.75,422.62L1143.93,422.82L1146.11,423.01L1148.29,423.20L1150.46,423.38L1152.64,423.55L1154.82,423.72L1157.00,423.89" fill="none" stroke="#4792f6" stroke-width="2.2" stroke-linejoin="round"/>
<path d="M723.50,206.70L725.08,207.09L726.66,207.48L728.24,207.89L729.82,208.30L731.40,208.73L732.98,209.16L734.56,209.60L736.14,210.05L737.72,210.52L739.30,210.99L740.88,211.47L742.46,211.96L744.04,212.47L745.62,212.98L747.20,213.51L748.78,214.04L750.36,214.59L751.94,215.15L753.52,215.72L755.10,216.30L756.68,216.90L758.26,217.50L759.84,218.12L761.42,218.75L763.00,219.40L764.58,220.06L766.16,220.72L767.74,221.41L769.32,222.10L770.90,222.81L772.48,223.53L774.06,224.27L775.64,225.02L777.22,225.78L778.80,226.56L780.38,227.35L781.96,228.16L783.54,228.98L785.12,229.81L786.70,230.66L788.28,231.53L789.86,232.40L791.44,233.30L793.02,234.21L794.60,235.13L796.18,236.07L797.76,237.02L799.34,237.99L800.92,238.97L802.49,239.97L804.07,240.98L805.65,242.01L807.23,243.05L808.81,244.10L810.39,245.18L811.97,246.26L813.55,247.37L815.13,248.48L816.71,249.61L818.29,250.76L819.87,251.92L821.45,253.09L823.03,254.28L824.61,255.48L826.19,256.70L827.77,257.93L829.35,259.17L830.93,260.43L832.51,261.70L834.09,262.98L835.67,264.28L837.25,265.59L838.83,266.91L840.41,268.24L841.99,269.58L843.57,270.93L845.15,272.30L846.73,273.68L848.31,275.06L849.89,276.46L851.47,277.86L853.05,279.28L854.63,280.70L856.21,282.13L857.79,283.57L859.37,285.02L860.95,286.47L862.53,287.93L864.11,289.40L865.69,290.87L867.27,292.35L868.85,293.83L870.43,295.32L872.01,296.81L873.59,298.31L875.17,299.81L876.75,301.31L878.33,302.81L879.91,304.32L881.49,305.82L883.07,307.33L884.65,308.83L886.23,310.34L887.81,311.85L889.39,313.35L890.97,314.85L892.55,316.35L894.13,317.85L895.71,319.34L897.29,320.83L898.87,322.32L900.45,323.80L902.03,325.28L903.61,326.75L905.19,328.21L906.77,329.67L908.35,331.12L909.93,332.57L911.51,334.01L913.09,335.44L914.67,336.86L916.25,338.27L917.83,339.67L919.41,341.07L920.99,342.45L922.57,343.82L924.15,345.19L925.73,346.54L927.31,347.88L928.89,349.21L930.47,350.53L932.05,351.84L933.63,353.14L935.21,354.42L936.79,355.69L938.37,356.95L939.95,358.19L941.53,359.43L943.11,360.64L944.69,361.85L946.27,363.04L947.85,364.22L949.43,365.39L951.01,366.54L952.59,367.68L954.17,368.80L955.75,369.91L957.33,371.00L958.91,372.08L960.48,373.15L962.06,374.20L963.64,375.24L965.22,376.26L966.80,377.27L968.38,378.27L969.96,379.25L971.54,380.22L973.12,381.17L974.70,382.11L976.28,383.03L977.86,383.94L979.44,384.83L981.02,385.72L982.60,386.58L984.18,387.44L985.76,388.28L987.34,389.10L988.92,389.92L990.50,390.72L992.08,391.50L993.66,392.28L995.24,393.04L996.82,393.78L998.40,394.52L999.98,395.24L1001.56,395.94L1003.14,396.64L1004.72,397.32L1006.30,398.00L1007.88,398.65L1009.46,399.30L1011.04,399.94L1012.62,400.56L1014.20,401.17L1015.78,401.77L1017.36,402.36L1018.94,402.94L1020.52,403.51L1022.10,404.06L1023.68,404.61L1025.26,405.15L1026.84,405.67L1028.42,406.19L1030.00,406.69L1031.58,407.19L1033.16,407.67L1034.74,408.15L1036.32,408.61L1037.90,409.07" fill="none" stroke="#008400" stroke-width="2.2" stroke-linejoin="round"/>
<path d="M723.50,229.17L725.08,230.11L726.66,231.08L728.24,232.05L729.82,233.04L731.40,234.05L732.98,235.07L734.56,236.10L736.14,237.15L737.72,238.22L739.30,239.30L740.88,240.39L742.46,241.50L744.04,242.62L745.62,243.76L747.20,244.91L748.78,246.08L750.36,247.26L751.94,248.45L753.52,249.66L755.10,250.88L756.68,252.12L758.26,253.37L759.84,254.63L761.42,255.91L763.00,257.19L764.58,258.50L766.16,259.81L767.74,261.14L769.32,262.48L770.90,263.83L772.48,265.20L774.06,266.57L775.64,267.96L777.22,269.36L778.80,270.77L780.38,272.18L781.96,273.61L783.54,275.05L785.12,276.50L786.70,277.96L788.28,279.42L789.86,280.90L791.44,282.38L793.02,283.87L794.60,285.36L796.18,286.87L797.76,288.38L799.34,289.89L800.92,291.41L802.49,292.94L804.07,294.47L805.65,296.01L807.23,297.54L808.81,299.09L810.39,300.63L811.97,302.18L813.55,303.73L815.13,305.27L816.71,306.83L818.29,308.38L819.87,309.93L821.45,311.48L823.03,313.03L824.61,314.58L826.19,316.12L827.77,317.67L829.35,319.21L830.93,320.74L832.51,322.28L834.09,323.81L835.67,325.33L837.25,326.85L838.83,328.36L840.41,329.87L841.99,331.37L843.57,332.87L845.15,334.35L846.73,335.83L848.31,337.30L849.89,338.77L851.47,340.22L853.05,341.66L854.63,343.10L856.21,344.52L857.79,345.94L859.37,347.34L860.95,348.73L862.53,350.12L864.11,351.49L865.69,352.84L867.27,354.19L868.85,355.52L870.43,356.84L872.01,358.15L873.59,359.45L875.17,360.73L876.75,362.00L878.33,363.25L879.91,364.49L881.49,365.72L883.07,366.94L884.65,368.13L886.23,369.32L887.81,370.49L889.39,371.64L890.97,372.79L892.55,373.91L894.13,375.02L895.71,376.12L897.29,377.20L898.87,378.27L900.45,379.32L902.03,380.36L903.61,381.38L905.19,382.38L906.77,383.37L908.35,384.35L909.93,385.31L911.51,386.26L913.09,387.19L914.67,388.11L916.25,389.01L917.83,389.90L919.41,390.77L920.99,391.63L922.57,392.48L924.15,393.31L925.73,394.12L927.31,394.92L928.89,395.71L930.47,396.49L932.05,397.25L933.63,397.99L935.21,398.73L936.79,399.45L938.37,400.15L939.95,400.85L941.53,401.53L943.11,402.19L944.69,402.85L946.27,403.49L947.85,404.12L949.43,404.74L951.01,405.34L952.59,405.94L954.17,406.52L955.75,407.09L957.33,407.65L958.91,408.20L960.48,408.74L962.06,409.26L963.64,409.78L965.22,410.28L966.80,410.78L968.38,411.26L969.96,411.73L971.54,412.20L973.12,412.65L974.70,413.10L976.28,413.53L977.86,413.96L979.44,414.37L981.02,414.78L982.60,415.18L984.18,415.57L985.76,415.95L987.34,416.33L988.92,416.69L990.50,417.05L992.08,417.40L993.66,417.74L995.24,418.07L996.82,418.40L998.40,418.72L999.98,419.03L1001.56,419.34L1003.14,419.63L1004.72,419.92L1006.30,420.21L1007.88,420.49L1009.46,420.76L1011.04,421.02L1012.62,421.28L1014.20,421.54L1015.78,421.79L1017.36,422.03L1018.94,422.26L1020.52,422.49L1022.10,422.72L1023.68,422.94L1025.26,423.15L1026.84,423.36L1028.42,423.57L1030.00,423.77L1031.58,423.97L1033.16,424.16L1034.74,424.34L1036.32,424.52L1037.90,424.70" fill="none" stroke="#0000d8" stroke-width="2.2" stroke-linejoin="round"/>
<line x1="1012.40" y1="73.60" x2="1012.40" y2="153.00" stroke="#086a44" stroke-width="2"/>
<line x1="1008.80" y1="73.60" x2="1016.20" y2="73.60" stroke="#086a44" stroke-width="2"/>
<circle cx="1012.40" cy="63.20" r="3.60" fill="none" stroke="#086a44" stroke-width="3.8"/>
<circle cx="1012.40" cy="106.20" r="3.60" fill="none" stroke="#086a44" stroke-width="3.8"/>
<circle cx="1012.40" cy="124.20" r="3.60" fill="none" stroke="#086a44" stroke-width="3.8"/>
<circle cx="1012.40" cy="155.00" r="3.60" fill="none" stroke="#086a44" stroke-width="3.8"/>
<line x1="1120.00" y1="67.30" x2="1161.70" y2="67.30" stroke="#0000d8" stroke-width="2"/>
<path d="M1141.00,63.05L1145.67,71.55L1136.33,71.55Z" fill="#0000d8"/>
<line x1="1120.00" y1="114.10" x2="1161.70" y2="114.10" stroke="#008400" stroke-width="2"/>
<rect x="1136.75" y="109.85" width="8.50" height="8.50" fill="#008400"/>
<line x1="1120.00" y1="161.00" x2="1161.70" y2="161.00" stroke="#7c00be" stroke-width="2"/>
<circle cx="1141.00" cy="161.00" r="4.25" fill="#7c00be"/>
<line x1="1120.00" y1="203.50" x2="1161.70" y2="203.50" stroke="#808000" stroke-width="2"/>
<path d="M1141.00,207.75L1145.67,199.25L1136.33,199.25Z" fill="#808000"/>
<line x1="1120.00" y1="246.00" x2="1161.70" y2="246.00" stroke="#4792f6" stroke-width="2"/>
<path d="M1141.00,242.00L1145.00,246.00L1141.00,250.00L1137.00,246.00Z" fill="#4792f6"/>
<line x1="1120.00" y1="288.30" x2="1161.70" y2="288.30" stroke="#086a44" stroke-width="2"/>
<circle cx="1141.00" cy="288.30" r="3.60" fill="none" stroke="#086a44" stroke-width="3.8"/>
<text x="1184.50" y="76.60" font-size="32" text-anchor="start" font-weight="normal" font-style="normal" >MFHR13</text>
<text x="1184.50" y="127.20" font-size="32" text-anchor="start" font-weight="normal" font-style="normal" >MFHR1</text>
<text x="1293.50" y="113.50" font-size="22.5" text-anchor="start" font-weight="normal" font-style="normal" >I62</text>
<text x="1184.50" y="172.90" font-size="32" text-anchor="start" font-weight="normal" font-style="normal" >MFHR1</text>
<text x="1296.50" y="160.00" font-size="22.5" text-anchor="start" font-weight="normal" font-style="normal" >V62</text>
<text x="1184.50" y="212.30" font-size="32" text-anchor="start" font-weight="normal" font-style="normal" >eculizumab</text>
<text x="1185.30" y="255.50" font-size="32" text-anchor="start" font-weight="normal" font-style="normal" letter-spacing="1.4">hFH</text>
<text x="1185.80" y="298.50" font-size="32.6" text-anchor="start" font-weight="normal" font-style="italic" >Δxt/ft</text>
</svg></body></html>
